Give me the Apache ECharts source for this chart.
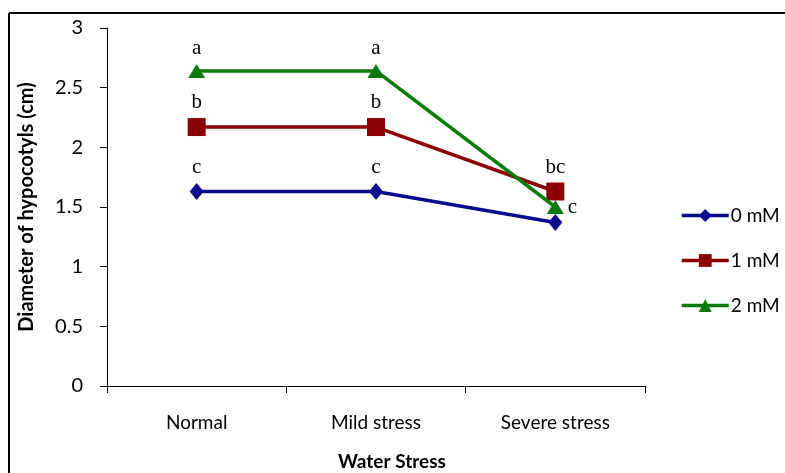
<!DOCTYPE html>
<html>
<head>
<meta charset="utf-8">
<script src="https://cdn.jsdelivr.net/npm/echarts@6/dist/echarts.min.js"></script>
<style>
  html, body { margin: 0; padding: 0; background: #fff; }
  #chart { width: 785px; height: 473px; }
</style>
</head>
<body>
<div id="chart"></div>
<script>
// Hypocotyl diameter under three water-stress levels
const categories = ['Normal', 'Mild stress', 'Severe stress'];
const seriesNames = ['0 mM', '1 mM', '2 mM'];
const values0mM = [1.63, 1.63, 1.37];
const values1mM = [2.17, 2.17, 1.63];
const values2mM = [2.64, 2.64, 1.50];
// significance letters for each point
const letters0mM = ['c', 'c', ''];
const letters1mM = ['b', 'b', 'bc'];
const letters2mM = ['a', 'a', 'c'];
const yTicks = [0, 0.5, 1, 1.5, 2, 2.5, 3];

const colors = ['#0a0a8c', '#8b0000', '#0a7a0a'];
const symbols = ['diamond', 'rect', 'triangle'];
const symbolSizes = [[14, 17], 18, [17, 14]];
const allValues = [values0mM, values1mM, values2mM];
const allLetters = [letters0mM, letters1mM, letters2mM];
const sansFont = 'Lato';

const chart = echarts.init(document.getElementById('chart'));

const series = seriesNames.map((name, i) => ({
  name: name,
  type: 'line',
  data: allValues[i].map((v, j) => {
    const pt = { value: v };
    const txt = allLetters[i][j];
    if (txt) {
      pt.label = { show: true, formatter: txt };
      // the letter for the 2 mM point under severe stress sits to its right
      if (i === 2 && j === 2) {
        pt.label.position = 'right';
        pt.label.distance = 4;
      }
    }
    return pt;
  }),
  symbol: symbols[i],
  symbolSize: symbolSizes[i],
  lineStyle: { color: colors[i], width: 3.5 },
  itemStyle: { color: colors[i] },
  label: {
    show: false,
    position: 'top',
    distance: 5,
    fontFamily: 'Liberation Serif',
    fontSize: 21,
    color: '#000'
  },
  emphasis: { disabled: true },
  z: 2 + i
}));

chart.setOption({
  animation: false,
  backgroundColor: '#fff',
  grid: { left: 107, right: 140, top: 28, bottom: 87, containLabel: false, outerBoundsMode: 'none' },
  legend: {
    orient: 'vertical',
    left: 680,
    top: 206,
    padding: 0,
    itemWidth: 47,
    itemHeight: 16,
    itemGap: 26,
    data: seriesNames,
    lineStyle: { width: 3.5 },
    textStyle: { fontFamily: sansFont, fontSize: 19, color: '#000', padding: [0, 0, 0, -3] }
  },
  xAxis: {
    type: 'category',
    data: categories,
    boundaryGap: true,
    name: 'Water Stress',
    nameLocation: 'middle',
    nameGap: 66,
    nameTextStyle: {
      fontFamily: sansFont, fontSize: 19, fontWeight: 'bold', color: '#000',
      padding: [0, 0, 0, 32]
    },
    axisLine: { lineStyle: { color: '#000', width: 1 } },
    axisTick: { show: true, length: 7, lineStyle: { color: '#000' } },
    axisLabel: { margin: 27, fontFamily: sansFont, fontSize: 19, color: '#000' },
    splitLine: { show: false }
  },
  yAxis: {
    type: 'value',
    min: yTicks[0],
    max: yTicks[yTicks.length - 1],
    interval: 0.5,
    name: 'Diameter of hypocotyls (cm)',
    nameLocation: 'middle',
    nameGap: 70,
    nameTextStyle: { fontFamily: sansFont, fontSize: 20, fontWeight: 'bold', color: '#000' },
    axisLine: { show: true, lineStyle: { color: '#000', width: 1 } },
    axisTick: { show: true, length: 7, lineStyle: { color: '#000' } },
    axisLabel: { margin: 24, fontFamily: sansFont, fontSize: 20, color: '#000' },
    splitLine: { show: false }
  },
  graphic: [
    { type: 'line', shape: { x1: 9, y1: 13, x2: 785, y2: 13 }, style: { stroke: '#000', lineWidth: 2 } },
    { type: 'line', shape: { x1: 9, y1: 13, x2: 9, y2: 473 }, style: { stroke: '#000', lineWidth: 2 } }
  ],
  series: series
});
</script>
</body>
</html>
